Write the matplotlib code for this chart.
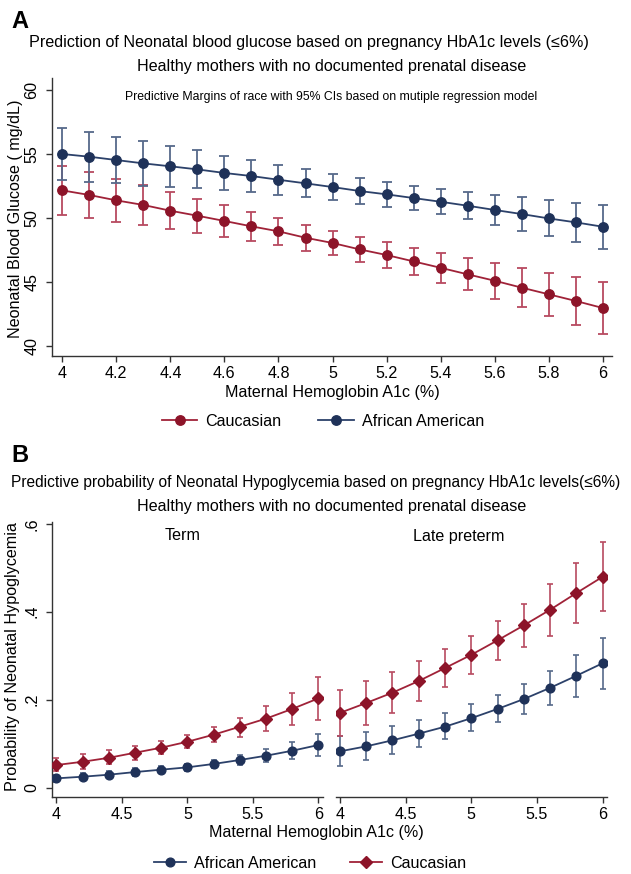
import matplotlib
matplotlib.use("Agg")
import matplotlib.pyplot as plt
from matplotlib.lines import Line2D
import numpy as np

plt.rcParams['font.family'] = ['Liberation Sans', 'DejaVu Sans']

# ---------------- data: panel A ----------------
hba1c_A = [4.0, 4.1, 4.2, 4.3, 4.4, 4.5, 4.6, 4.7, 4.8, 4.9, 5.0,
           5.1, 5.2, 5.3, 5.4, 5.5, 5.6, 5.7, 5.8, 5.9, 6.0]
aa_glucose = [55.0, 54.79, 54.53, 54.27, 54.04, 53.80, 53.52, 53.28, 52.99, 52.71, 52.42,
              52.11, 51.85, 51.56, 51.27, 50.96, 50.63, 50.31, 49.97, 49.66, 49.32]
aa_glucose_ci = [2.06, 1.95, 1.82, 1.74, 1.59, 1.48, 1.36, 1.28, 1.17, 1.09, 1.01,
                 0.99, 0.95, 0.93, 0.99, 1.04, 1.17, 1.30, 1.41, 1.55, 1.71]
cau_glucose = [52.16, 51.80, 51.38, 51.02, 50.57, 50.18, 49.77, 49.35, 48.96, 48.46, 48.05,
               47.55, 47.11, 46.61, 46.11, 45.60, 45.10, 44.56, 44.04, 43.52, 42.97]
cau_glucose_ci = [1.90, 1.80, 1.70, 1.56, 1.45, 1.33, 1.23, 1.13, 1.03, 1.00, 0.94,
                  0.95, 0.98, 1.03, 1.15, 1.26, 1.40, 1.55, 1.70, 1.88, 2.06]
yticks_A = [40, 45, 50, 55, 60]
xticks_A = [4, 4.2, 4.4, 4.6, 4.8, 5, 5.2, 5.4, 5.6, 5.8, 6]
xticklabels_A = ['4', '4.2', '4.4', '4.6', '4.8', '5', '5.2', '5.4', '5.6', '5.8', '6']

# ---------------- data: panel B ----------------
hba1c_B = [4.0, 4.2, 4.4, 4.6, 4.8, 5.0, 5.2, 5.4, 5.6, 5.8, 6.0]
term_aa = [0.0213, 0.025, 0.0296, 0.0356, 0.041, 0.0463, 0.054, 0.063, 0.0727, 0.084, 0.097]
term_aa_lo = [0.014, 0.017, 0.021, 0.027, 0.033, 0.037, 0.044, 0.051, 0.058, 0.065, 0.072]
term_aa_hi = [0.030, 0.033, 0.037, 0.044, 0.049, 0.055, 0.064, 0.075, 0.089, 0.103, 0.121]
term_cau = [0.0516, 0.059, 0.068, 0.0795, 0.091, 0.1045, 0.1205, 0.1386, 0.157, 0.179, 0.203]
term_cau_lo = [0.037, 0.0425, 0.053, 0.0636, 0.0766, 0.0895, 0.103, 0.116, 0.129, 0.142, 0.154]
term_cau_hi = [0.068, 0.0766, 0.0856, 0.0955, 0.106, 0.120, 0.137, 0.159, 0.186, 0.216, 0.251]
late_aa = [0.0826, 0.094, 0.1077, 0.1228, 0.1387, 0.158, 0.179, 0.2015, 0.227, 0.2545, 0.283]
late_aa_lo = [0.050, 0.063, 0.0766, 0.092, 0.110, 0.129, 0.1486, 0.168, 0.187, 0.207, 0.225]
late_aa_hi = [0.1175, 0.1266, 0.1395, 0.154, 0.1705, 0.1895, 0.210, 0.2357, 0.266, 0.3016, 0.341]
late_cau = [0.170, 0.1925, 0.216, 0.2425, 0.272, 0.302, 0.335, 0.369, 0.4045, 0.4425, 0.4795]
late_cau_lo = [0.1175, 0.1425, 0.169, 0.198, 0.2295, 0.259, 0.290, 0.319, 0.346, 0.374, 0.4015]
late_cau_hi = [0.222, 0.242, 0.2636, 0.288, 0.3145, 0.344, 0.380, 0.418, 0.463, 0.510, 0.558]
yticks_B = [0, 0.2, 0.4, 0.6]
yticklabels_B = ['0', '.2', '.4', '.6']
xticks_B = [4, 4.5, 5, 5.5, 6]
xticklabels_B = ['4', '4.5', '5', '5.5', '6']

# ---------------- style ----------------
BLUE = '#1f3259'
BLUE_LINE = '#2c416a'
BLUE_ERR = '#56698a'
RED = '#8d1429'
RED_LINE = '#a02238'
RED_ERR = '#b84a60'
AXCOL = '#333333'
FS = 11.6

W, H = 631, 874
fig = plt.figure(figsize=(W / 100, H / 100), dpi=100)


def rect(left, top, right, bottom):
    return [left / W, 1 - bottom / H, (right - left) / W, (bottom - top) / H]


def fxy(px, py):
    return px / W, 1 - py / H


def style_axis(ax, show_left=True):
    for s in ['top', 'right']:
        ax.spines[s].set_visible(False)
    ax.spines['left'].set_visible(show_left)
    for s in ['left', 'bottom']:
        ax.spines[s].set_color(AXCOL)
        ax.spines[s].set_linewidth(1.0)
    ax.tick_params(axis='both', colors=AXCOL, labelcolor='black', labelsize=FS,
                   length=4, width=1.0, direction='out')
    ax.tick_params(axis='y', pad=5)
    ax.tick_params(axis='x', pad=3)
    if not show_left:
        ax.tick_params(axis='y', left=False, labelleft=False)
    ax.set_facecolor('white')


# ---------------- Panel A ----------------
axA = fig.add_axes(rect(52, 78, 612, 356))
style_axis(axA)
axA.errorbar(hba1c_A, cau_glucose, yerr=cau_glucose_ci, fmt='none', ecolor=RED_ERR,
             elinewidth=1.3, capsize=3.3, capthick=1.3, zorder=2)
axA.plot(hba1c_A, cau_glucose, '-', color=RED_LINE, lw=1.3, zorder=3)
axA.plot(hba1c_A, cau_glucose, 'o', color=RED, ms=6.8, mec=RED, zorder=4)
axA.errorbar(hba1c_A, aa_glucose, yerr=aa_glucose_ci, fmt='none', ecolor=BLUE_ERR,
             elinewidth=1.3, capsize=3.3, capthick=1.3, zorder=2)
axA.plot(hba1c_A, aa_glucose, '-', color=BLUE_LINE, lw=1.3, zorder=3)
axA.plot(hba1c_A, aa_glucose, 'o', color=BLUE, ms=6.8, mec=BLUE, zorder=4)
axA.set_xlim(3.962, 6.034)
axA.set_ylim(39.22, 60.94)
axA.set_yticks(yticks_A)
axA.set_yticklabels([str(v) for v in yticks_A], rotation=90, va='center')
axA.set_xticks(xticks_A)
axA.set_xticklabels(xticklabels_A)
axA.text(0.498, 0.93, 'Predictive Margins of race with 95% CIs based on mutiple regression model',
         transform=axA.transAxes, ha='center', va='center', fontsize=8.8)

fig.text(*fxy(16, 219), 'Neonatal Blood Glucose ( mg/dL)', rotation=90,
         ha='center', va='center', fontsize=FS)
fig.text(*fxy(332, 392), 'Maternal Hemoglobin A1c (%)', ha='center', va='center', fontsize=FS)
fig.text(*fxy(11, 22), 'A', ha='left', va='center', fontsize=17, fontweight='bold')
fig.text(*fxy(309, 42),
         'Prediction of Neonatal blood glucose based on pregnancy HbA1c levels (≤6%)',
         ha='center', va='center', fontsize=FS)
fig.text(*fxy(332, 66), 'Healthy mothers with no documented prenatal disease',
         ha='center', va='center', fontsize=FS)

hA = [Line2D([0], [0], color=RED_LINE, lw=1.3, marker='o', ms=6.8, mfc=RED, mec=RED),
      Line2D([0], [0], color=BLUE_LINE, lw=1.3, marker='o', ms=6.8, mfc=BLUE, mec=BLUE)]
fig.legend(hA, ['Caucasian', 'African American'], loc='center',
           bbox_to_anchor=fxy(323, 421), ncol=2, frameon=False, fontsize=FS,
           handlelength=2.2, handletextpad=0.5, columnspacing=2.3)

# ---------------- Panel B ----------------
def err(mid, lo, hi):
    mid = np.asarray(mid); lo = np.asarray(lo); hi = np.asarray(hi)
    return [mid - lo, hi - mid]


def draw_B(ax, aa, aa_lo, aa_hi, cau, cau_lo, cau_hi):
    ax.errorbar(hba1c_B, aa, yerr=err(aa, aa_lo, aa_hi), fmt='none', ecolor=BLUE_ERR,
                elinewidth=1.2, capsize=2.3, capthick=1.2, zorder=2)
    ax.plot(hba1c_B, aa, '-', color=BLUE_LINE, lw=1.3, zorder=3)
    ax.plot(hba1c_B, aa, 'o', color=BLUE, ms=6.3, mec=BLUE, zorder=4)
    ax.errorbar(hba1c_B, cau, yerr=err(cau, cau_lo, cau_hi), fmt='none', ecolor=RED_ERR,
                elinewidth=1.2, capsize=2.3, capthick=1.2, zorder=5)
    ax.plot(hba1c_B, cau, '-', color=RED_LINE, lw=1.3, zorder=6)
    ax.plot(hba1c_B, cau, 'D', color=RED, ms=6.3, mec=RED, zorder=7)
    ax.set_ylim(-0.0211, 0.604)
    ax.set_xticks(xticks_B)
    ax.set_xticklabels(xticklabels_B)


axB1 = fig.add_axes(rect(52, 522, 323, 797))
style_axis(axB1)
draw_B(axB1, term_aa, term_aa_lo, term_aa_hi, term_cau, term_cau_lo, term_cau_hi)
axB1.set_xlim(3.966, 6.036)
axB1.set_yticks(yticks_B)
axB1.set_yticklabels(yticklabels_B, rotation=90, va='center')

axB2 = fig.add_axes(rect(336, 522, 607, 797))
style_axis(axB2, show_left=False)
draw_B(axB2, late_aa, late_aa_lo, late_aa_hi, late_cau, late_cau_lo, late_cau_hi)
axB2.set_xlim(3.971, 6.033)
axB2.set_yticks(yticks_B)

fig.text(*fxy(183, 536), 'Term', ha='center', va='center', fontsize=FS)
fig.text(*fxy(459, 537), 'Late preterm', ha='center', va='center', fontsize=FS)

fig.text(*fxy(13, 657), 'Probability of Neonatal Hypoglycemia', rotation=90,
         ha='center', va='center', fontsize=FS)
fig.text(*fxy(316, 833), 'Maternal Hemoglobin A1c (%)', ha='center', va='center', fontsize=FS)
fig.text(*fxy(11, 455), 'B', ha='left', va='center', fontsize=17, fontweight='bold')
fig.text(*fxy(316, 482),
         'Predictive probability of Neonatal Hypoglycemia based on pregnancy HbA1c levels(≤6%)',
         ha='center', va='center', fontsize=11.2)
fig.text(*fxy(332, 506), 'Healthy mothers with no documented prenatal disease',
         ha='center', va='center', fontsize=FS)

hB = [Line2D([0], [0], color=BLUE_LINE, lw=1.3, marker='o', ms=6.3, mfc=BLUE, mec=BLUE),
      Line2D([0], [0], color=RED_LINE, lw=1.3, marker='D', ms=6.3, mfc=RED, mec=RED)]
fig.legend(hB, ['African American', 'Caucasian'], loc='center',
           bbox_to_anchor=fxy(310, 863), ncol=2, frameon=False, fontsize=FS,
           handlelength=2.0, handletextpad=0.5, columnspacing=2.1)

fig.savefig('out.png', dpi=100, facecolor='white')
